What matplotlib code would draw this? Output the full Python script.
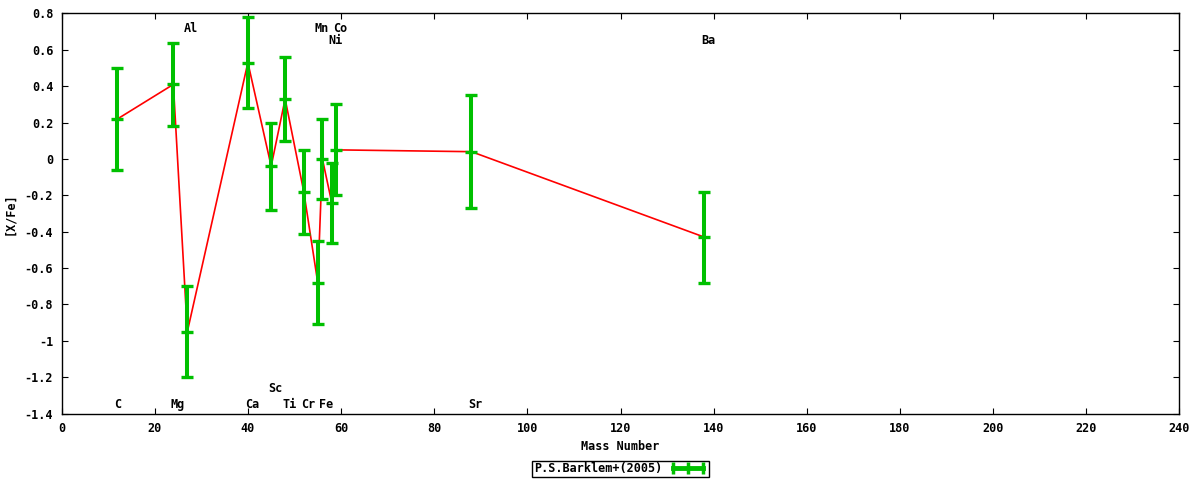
import numpy as np
import matplotlib
matplotlib.use('Agg')
import matplotlib.pyplot as plt
from matplotlib.lines import Line2D

plt.rcParams.update({
    'font.family': 'DejaVu Sans Mono',
    'font.weight': 'bold',
    'font.size': 8.5,
    'axes.linewidth': 1.0,
    'xtick.direction': 'in',
    'ytick.direction': 'in',
    'xtick.top': True,
    'ytick.right': True,
    'xtick.major.size': 4,
    'ytick.major.size': 4,
})

# data: mass number, [X/Fe], error
elements = ['C', 'Mg', 'Al', 'Ca', 'Sc', 'Ti', 'Cr', 'Mn', 'Fe', 'Ni', 'Co', 'Sr', 'Ba']
mass     = [12, 24, 27, 40, 45, 48, 52, 55, 56, 58, 59, 88, 138]
xfe      = [0.22, 0.41, -0.95, 0.53, -0.04, 0.33, -0.18, -0.68, 0.00, -0.24, 0.05, 0.04, -0.43]
err      = [0.28, 0.23, 0.25, 0.25, 0.24, 0.23, 0.23, 0.23, 0.22, 0.22, 0.25, 0.31, 0.25]

# label heights (in data units)
label_y  = [-1.35, -1.35, 0.72, -1.35, -1.26, -1.35, -1.35, 0.72, -1.35, 0.65, 0.72, -1.35, 0.65]

yticks = np.round(np.arange(-1.4, 0.81, 0.2), 1)

GREEN = '#00c000'

fig = plt.figure(figsize=(12, 4.8), dpi=100)
ax = fig.add_axes([0.0513, 0.1385, 0.9316, 0.8334])

ax.plot(mass, xfe, color='red', lw=1.2, zorder=2)
ax.errorbar(mass, xfe, yerr=err, fmt='_', color=GREEN, ms=8.5, mew=2.4,
            elinewidth=2.9, capsize=4.2, capthick=2.4, zorder=3)

for el, m, ly in zip(elements, mass, label_y):
    ax.text(m - 0.65, ly, el, ha='left', va='center', fontsize=8.5,
            fontweight='bold')

ax.set_xlim(0, 240)
ax.set_ylim(-1.4, 0.8)
ax.set_xticks(np.arange(0, 241, 20))
ax.set_yticks(yticks)
ax.set_yticklabels(['0' if v == 0 else f'{v:g}' for v in yticks])
ax.tick_params(axis='both', pad=6)
ax.set_xlabel('Mass Number', fontweight='bold', labelpad=4)
ax.set_ylabel('[X/Fe]', fontweight='bold', labelpad=6)

handle = Line2D([], [], color=GREEN, lw=3.5, marker='|', ms=8, mew=2.5)
leg = fig.legend([handle], ['P.S.Barklem+(2005)'], loc='center',
                 bbox_to_anchor=(0.517, 0.023), numpoints=3,
                 markerfirst=False, fancybox=False, edgecolor='black',
                 framealpha=1, borderpad=0.15, handlelength=3.2,
                 handletextpad=0.6, borderaxespad=0, fontsize=8.5)
leg.get_frame().set_linewidth(1.0)

fig.savefig('out.png', dpi=100)
